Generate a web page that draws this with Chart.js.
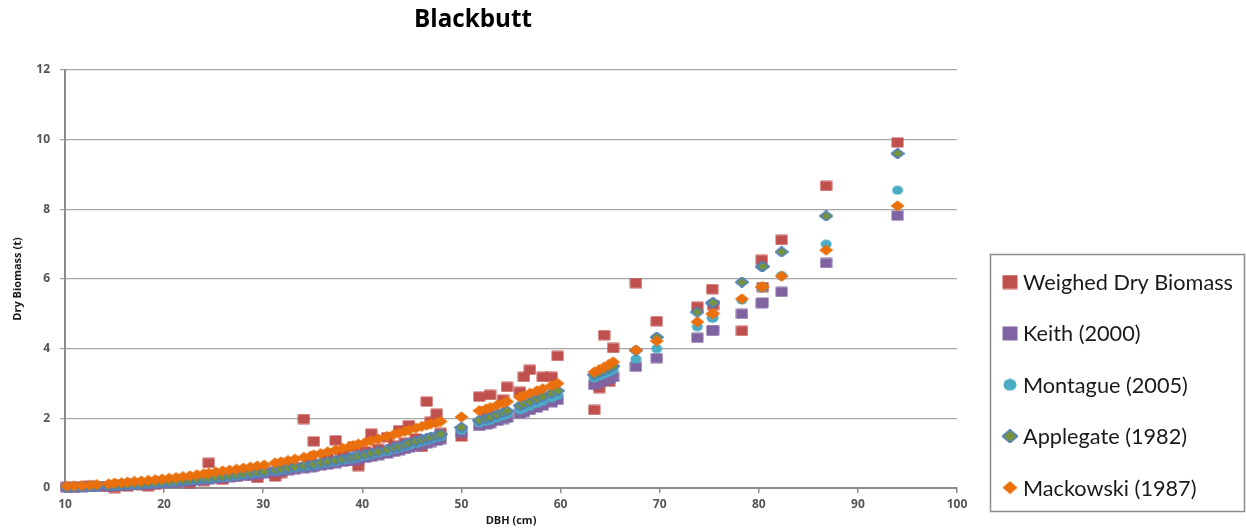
<!DOCTYPE html>
<html><head><meta charset="utf-8">
<script src="https://cdn.jsdelivr.net/npm/chart.js@4.4.0/dist/chart.umd.min.js"></script>
<style>html,body{margin:0;padding:0;background:#fff;}#wrap{width:1246px;height:529px;position:relative;}</style>
</head><body><div id="wrap"><canvas id="c" width="1246" height="529"></canvas></div>
<script>
const chartTitle = 'Blackbutt';
const xAxisTitle = 'DBH (cm)';
const yAxisTitle = 'Dry Biomass (t)';
const seriesNames = ['Weighed Dry Biomass','Keith (2000)','Montague (2005)','Applegate (1982)','Mackowski (1987)'];
const xTickValues = [10,20,30,40,50,60,70,80,90,100];
const yTickValues = [0,2,4,6,8,10,12];

const dbh = [10.2,10.9,11.7,12.5,13.2,14.4,15.0,15.7,16.3,17.0,17.7,18.4,19.1,19.8,20.5,21.2,21.9,22.6,23.3,24.0,24.5,25.2,25.9,26.6,27.3,28.0,28.7,29.4,30.1,31.2,31.8,32.5,33.2,34.1,34.8,35.1,35.8,36.5,37.3,38.0,38.7,39.1,39.6,40.3,40.9,41.6,42.5,43.2,43.7,44.3,44.7,45.4,46.0,46.5,46.9,47.5,47.9,
  50.0,
  51.8,52.5,52.9,53.6,54.2,54.6,55.9,56.3,56.9,57.6,58.2,59.1,59.7,
  63.4,63.9,64.4,64.9,65.3,
  67.6,69.7,73.8,75.3,75.4,78.3,80.3,80.4,82.3,86.8,94.0];

const weighed = [0.03,0.02,0.05,0.06,0.04,0.03,0.00,0.10,0.04,0.12,0.08,0.05,0.09,0.18,0.20,0.17,0.25,0.14,0.28,0.20,0.72,0.30,0.24,0.38,0.33,0.42,0.36,0.29,0.45,0.33,0.43,0.55,0.60,1.98,0.74,1.34,0.68,0.85,1.37,0.95,0.78,1.18,0.63,1.05,1.56,1.12,1.46,1.22,1.66,1.30,1.80,1.42,1.18,2.48,1.90,2.13,1.58,
  1.48,
  2.62,2.20,2.67,2.10,2.53,2.90,2.76,3.19,3.39,2.50,3.19,3.19,3.79,
  2.24,2.87,4.39,3.05,4.02,
  5.88,4.79,5.20,5.71,5.25,4.51,6.55,5.77,7.12,8.67,9.92];

const keith = [0.01,0.02,0.02,0.03,0.04,0.05,0.06,0.07,0.08,0.09,0.10,0.11,0.12,0.14,0.15,0.16,0.18,0.20,0.22,0.24,0.25,0.27,0.29,0.31,0.33,0.35,0.37,0.40,0.42,0.46,0.48,0.51,0.54,0.57,0.60,0.61,0.65,0.68,0.71,0.75,0.78,0.80,0.83,0.87,0.90,0.94,0.99,1.04,1.08,1.12,1.16,1.20,1.25,1.29,1.32,1.36,1.40,
  1.58,
  1.78,1.83,1.86,1.93,1.98,2.02,2.14,2.18,2.24,2.31,2.37,2.46,2.53,
  2.96,3.02,3.08,3.13,3.19,
  3.48,3.73,4.31,4.52,4.53,5.00,5.31,5.32,5.63,6.46,7.82];

const montague = [0.02,0.03,0.03,0.04,0.05,0.06,0.07,0.08,0.09,0.10,0.11,0.12,0.14,0.15,0.16,0.18,0.20,0.22,0.24,0.26,0.27,0.29,0.31,0.33,0.35,0.38,0.40,0.43,0.45,0.49,0.52,0.55,0.58,0.61,0.64,0.65,0.69,0.72,0.76,0.80,0.83,0.85,0.88,0.92,0.96,1.00,1.05,1.11,1.15,1.20,1.23,1.28,1.33,1.37,1.40,1.45,1.48,
  1.66,
  1.87,1.92,1.95,2.02,2.08,2.12,2.25,2.29,2.35,2.43,2.50,2.59,2.66,
  3.16,3.22,3.27,3.33,3.39,
  3.70,4.00,4.63,4.88,4.89,5.40,5.75,5.76,6.10,7.00,8.55];

const applegate = [0.02,0.03,0.03,0.04,0.05,0.06,0.07,0.08,0.09,0.10,0.11,0.13,0.14,0.16,0.17,0.19,0.21,0.23,0.25,0.27,0.28,0.30,0.32,0.35,0.37,0.40,0.42,0.45,0.47,0.51,0.54,0.57,0.60,0.64,0.67,0.68,0.72,0.75,0.79,0.83,0.87,0.89,0.92,0.96,1.00,1.04,1.10,1.16,1.20,1.25,1.29,1.34,1.39,1.43,1.46,1.51,1.55,
  1.74,
  1.94,2.00,2.03,2.10,2.17,2.21,2.36,2.41,2.47,2.55,2.62,2.72,2.79,
  3.25,3.31,3.38,3.44,3.50,
  3.95,4.33,5.05,5.31,5.32,5.91,6.35,6.36,6.78,7.81,9.60];

const mackowski = [0.05,0.06,0.07,0.08,0.10,0.12,0.14,0.15,0.17,0.19,0.20,0.22,0.24,0.26,0.28,0.30,0.33,0.35,0.38,0.41,0.43,0.46,0.49,0.51,0.54,0.57,0.60,0.63,0.66,0.72,0.75,0.79,0.83,0.88,0.92,0.95,0.99,1.04,1.09,1.14,1.19,1.22,1.26,1.31,1.36,1.41,1.48,1.54,1.58,1.63,1.66,1.72,1.77,1.81,1.84,1.88,1.91,
  2.04,
  2.22,2.27,2.31,2.38,2.44,2.48,2.61,2.65,2.72,2.79,2.85,2.94,3.00,
  3.33,3.40,3.47,3.55,3.62,
  3.96,4.22,4.77,5.00,5.01,5.43,5.77,5.78,6.08,6.83,8.10];

const seriesValues = [weighed, keith, montague, applegate, mackowski];

// marker styles
const markerSpecs = [
  {shape:'rect', fill:'#C0504D', stroke:null},
  {shape:'rect', fill:'#8064A2', stroke:null},
  {shape:'circle', fill:'#4BACC6', stroke:null},
  {shape:'diamond', fill:'#77933C', stroke:'#4F81BD'},
  {shape:'diamond', fill:'#EA700D', stroke:null}
];
function makeMarker(spec, w, h) {
  const c = document.createElement('canvas');
  c.width = w; c.height = h;
  const g = c.getContext('2d');
  g.fillStyle = spec.fill;
  g.beginPath();
  if (spec.shape === 'rect') {
    g.rect(0.5, 0.5, w - 1, h - 1);
  } else if (spec.shape === 'circle') {
    g.ellipse(w / 2, h / 2, w / 2 - 0.5, h / 2 - 0.5, 0, 0, Math.PI * 2);
  } else {
    g.moveTo(w / 2, 0.5); g.lineTo(w - 0.5, h / 2); g.lineTo(w / 2, h - 0.5); g.lineTo(0.5, h / 2); g.closePath();
  }
  g.fill();
  if (spec.stroke) { g.strokeStyle = spec.stroke; g.lineWidth = 1.6; g.stroke(); }
  return c;
}
const pointSizes = [[13,11],[13,11],[12,10],[14,11],[15,12]];
const legendSizes = [[16,15],[16,15],[14,13],[16,14],[16,14]];
const pointMarkers = markerSpecs.map((s, i) => makeMarker(s, pointSizes[i][0], pointSizes[i][1]));
const legendMarkers = markerSpecs.map((s, i) => makeMarker(s, legendSizes[i][0], legendSizes[i][1]));

const decorPlugin = {
  id: 'decor',
  afterDraw(chart) {
    const ctx = chart.ctx;
    ctx.save();
    // title
    let base = 18;
    ctx.font = 'bold ' + base + 'px "Open Sans"';
    let tw = ctx.measureText(chartTitle).width;
    const ts = base * 118 / tw;
    ctx.font = 'bold ' + ts.toFixed(2) + 'px "Open Sans"';
    ctx.fillStyle = '#000';
    ctx.textAlign = 'center';
    ctx.textBaseline = 'middle';
    ctx.fillText(chartTitle, 473, 20);
    // legend box
    ctx.strokeStyle = '#8c8c8c';
    ctx.lineWidth = 1.5;
    ctx.strokeRect(990.5, 254.5, 254, 257);
    ctx.font = '20px Lato';
    const lw = ctx.measureText(seriesNames[0]).width;
    const ls = 20 * 210 / lw;
    ctx.font = ls.toFixed(2) + 'px Lato';
    ctx.fillStyle = '#1a1a1a';
    ctx.textAlign = 'left';
    ctx.textBaseline = 'middle';
    seriesNames.forEach((name, i) => {
      const y = 282 + i * 51.4;
      const m = legendMarkers[i];
      ctx.drawImage(m, 1010 - m.width / 2, y - m.height / 2);
      ctx.fillText(name, 1023, y + 1);
    });
    ctx.restore();
  }
};

const axisColor = '#8c8c8c';
const tickFont = {family: '"Open Sans"', size: 12, weight: 'bold'};
const titleFont = {family: '"Open Sans"', size: 11, weight: 'bold'};

new Chart(document.getElementById('c'), {
  type: 'scatter',
  data: {
    datasets: seriesNames.map((name, i) => ({
      label: name,
      data: dbh.map((x, j) => ({x: x, y: seriesValues[i][j]})),
      pointStyle: pointMarkers[i],
      pointRadius: 6,
      pointHoverRadius: 6,
      order: 5 - i,
      clip: false,
      showLine: false
    }))
  },
  options: {
    responsive: false,
    animation: false,
    devicePixelRatio: 1,
    events: [],
    layout: {padding: {left: 0, right: 289, top: 70, bottom: 0}},
    plugins: {legend: {display: false}, tooltip: {enabled: false}, title: {display: false}},
    scales: {
      x: {
        type: 'linear', min: 10, max: 100,
        afterBuildTicks(s) { s.ticks = xTickValues.map(v => ({value: v})); },
        afterFit(s) { s.height = 41; },
        ticks: {font: tickFont, color: '#555555', padding: 4, maxRotation: 0},
        grid: {drawOnChartArea: false, drawTicks: true, tickLength: 5, color: axisColor, lineWidth: 1.5},
        border: {color: axisColor, width: 2},
        title: {display: true, text: xAxisTitle, font: titleFont, color: '#1a1a1a', padding: {top: 0, bottom: 2}}
      },
      y: {
        type: 'linear', min: 0, max: 12,
        afterBuildTicks(s) { s.ticks = yTickValues.map(v => ({value: v})); },
        afterFit(s) { s.width = 65; },
        ticks: {font: tickFont, color: '#555555', padding: 10},
        grid: {drawTicks: true, tickLength: 5, color: '#a6a6a6', lineWidth: 1.3},
        border: {color: axisColor, width: 2},
        title: {display: true, text: yAxisTitle, font: titleFont, color: '#1a1a1a', padding: {top: 11, bottom: 0}}
      }
    }
  },
  plugins: [decorPlugin]
});
</script></body></html>
